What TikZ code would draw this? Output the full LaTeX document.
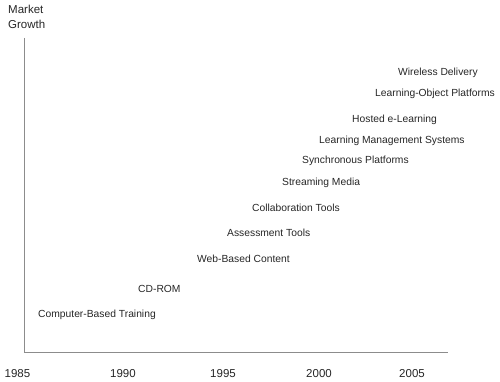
\documentclass[tikz,border=0pt]{standalone}
\usepackage{fontspec}
\setmainfont{Liberation Sans}
\begin{document}
\begin{tikzpicture}[x=1pt,y=-1pt,
  axisline/.style={draw=black!45,line width=0.9pt},
  lbl/.style={anchor=base west,inner sep=0pt,font=\fontsize{10.3}{12}\selectfont,text=black!85},
  yr/.style={anchor=base,inner sep=0pt,font=\fontsize{11.5}{13}\selectfont,text=black!85},
  ttl/.style={anchor=north west,inner sep=0pt,align=left,font=\fontsize{11.5}{15}\selectfont,text=black!85}]
\useasboundingbox (0,0) rectangle (500,382);
\coordinate (top) at (24,38);
\coordinate (origin) at (24,352);
\coordinate (xend) at (448,352);
\draw[axisline] (top) -- (origin) -- (xend);
\node[ttl] (title) at (8,4.5) {Market\\Growth};
\node[yr] (y1985) at (17.5,377.2) {1985};
\node[yr] (y1990) at (123,377.2) {1990};
\node[yr] (y1995) at (223,377.2) {1995};
\node[yr] (y2000) at (319,377.2) {2000};
\node[yr] (y2005) at (412,377.2) {2005};
\node[lbl] (wd) at (398,75.7) {Wireless Delivery};
\node[lbl] (lop) at (375,96.7) {Learning-Object Platforms};
\node[lbl] (hel) at (352,122.7) {Hosted e-Learning};
\node[lbl] (lms) at (319,143.7) {Learning Management Systems};
\node[lbl] (sp) at (302,163.7) {Synchronous Platforms};
\node[lbl] (sm) at (282,185.7) {Streaming Media};
\node[lbl] (ct) at (252,211.7) {Collaboration Tools};
\node[lbl] (at) at (227,236.7) {Assessment Tools};
\node[lbl] (wbc) at (197,262.7) {Web-Based Content};
\node[lbl] (cd) at (138,292.7) {CD-ROM};
\node[lbl] (cbt) at (38,317.7) {Computer-Based Training};
\end{tikzpicture}
\end{document}
